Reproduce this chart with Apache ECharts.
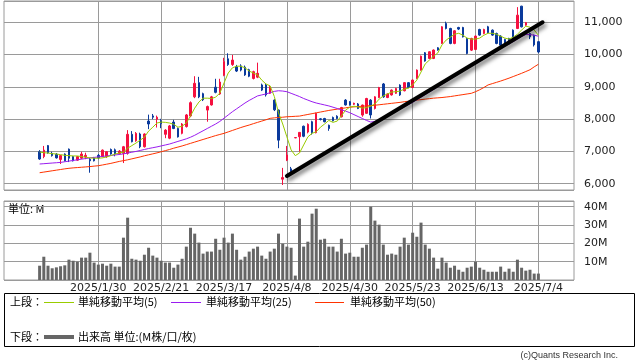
<!DOCTYPE html>
<html><head><meta charset="utf-8">
<script src="https://cdn.jsdelivr.net/npm/echarts@6/dist/echarts.min.js"></script>
<style>html,body{margin:0;padding:0;background:#fff;}#c{width:638px;height:362px;}</style>
</head><body><div id="c"></div>
<script>
const padBefore = ['2024/12/24','2024/12/25','2024/12/26','2024/12/27','2024/12/30','2025/1/6','2025/1/7','2025/1/8'];
const dates = [
'2025/1/9','2025/1/10','2025/1/14','2025/1/15','2025/1/16','2025/1/17','2025/1/20','2025/1/21','2025/1/22','2025/1/23','2025/1/24','2025/1/27','2025/1/28','2025/1/29','2025/1/30','2025/1/31',
'2025/2/3','2025/2/4','2025/2/5','2025/2/6','2025/2/7','2025/2/10','2025/2/12','2025/2/13','2025/2/14','2025/2/17','2025/2/18','2025/2/19','2025/2/20','2025/2/21','2025/2/25','2025/2/26','2025/2/27','2025/2/28',
'2025/3/3','2025/3/4','2025/3/5','2025/3/6','2025/3/7','2025/3/10','2025/3/11','2025/3/12','2025/3/13','2025/3/14','2025/3/17','2025/3/18','2025/3/19','2025/3/21','2025/3/24','2025/3/25','2025/3/26','2025/3/27','2025/3/28','2025/3/31',
'2025/4/1','2025/4/2','2025/4/3','2025/4/4','2025/4/7','2025/4/8','2025/4/9','2025/4/10','2025/4/11','2025/4/14','2025/4/15','2025/4/16','2025/4/17','2025/4/18','2025/4/21','2025/4/22','2025/4/23','2025/4/24','2025/4/25','2025/4/28','2025/4/30',
'2025/5/1','2025/5/2','2025/5/7','2025/5/8','2025/5/9','2025/5/12','2025/5/13','2025/5/14','2025/5/15','2025/5/16','2025/5/19','2025/5/20','2025/5/21','2025/5/22','2025/5/23','2025/5/26','2025/5/27','2025/5/28','2025/5/29','2025/5/30',
'2025/6/2','2025/6/3','2025/6/4','2025/6/5','2025/6/6','2025/6/9','2025/6/10','2025/6/11','2025/6/12','2025/6/13','2025/6/16','2025/6/17','2025/6/18','2025/6/19','2025/6/20','2025/6/23','2025/6/24','2025/6/25','2025/6/26','2025/6/27','2025/6/30',
'2025/7/1','2025/7/2','2025/7/3','2025/7/4'];
const padAfter = ['2025/7/7','2025/7/8','2025/7/9','2025/7/10','2025/7/11','2025/7/14','2025/7/15','2025/7/16'];
const labelDates = ['2025/1/30','2025/2/21','2025/3/17','2025/4/8','2025/4/30','2025/5/23','2025/6/13','2025/7/4'];

const opens = [6990,6840,7180,6940,6910,6750,6920,7070,6840,6730,6790,6830,6760,6800,6880,6840,6840,7060,7050,6930,
6940,6940,7530,7330,7540,7145,7940,8100,8000,7950,7530,7410,7910,7710,7560,7770,8100,8690,9130,8790,
8280,8440,8990,8780,9360,9870,9690,9620,9650,9610,9530,9260,9300,9060,9060,8800,8590,8280,6140,6730,
6460,7420,7455,7780,7600,7920,7580,8010,8020,7810,8050,8090,8075,8590,8540,8460,8470,8126,8180,8590,
8330,8670,9090,8670,8750,8800,9055,8880,9130,8980,9260,9520,10056,9880,9880,10210,10345,10964,10809,10345,
10840,10840,10500,10138,10159,10778,10654,10861,10757,10654,10572,10469,10500,10757,10809,11500,10912,10654,10600,10400];
const closes = [6765,7040,6960,6870,6800,6870,6710,6790,6710,6840,6920,6880,6710,6710,6800,7040,6990,6920,6920,7010,
7145,7530,7300,7560,7145,7540,7850,8060,8060,7860,7660,7790,7710,7450,7850,8130,8510,9110,8690,8600,
8390,8690,8830,9150,9780,9690,9830,9490,9520,9370,9330,9470,9420,8900,8750,9000,8290,7350,6190,6890,
6370,7430,7590,7470,7840,7580,8180,7990,7920,7710,7950,8020,8360,8440,8440,8490,8330,8436,8640,8130,
8690,8980,8690,8780,8900,8950,8750,9130,8980,9210,9520,9950,9800,10087,10140,10140,10860,10809,10345,10737,
10790,10550,10035,10500,10572,10603,10778,10675,10603,10345,10293,10314,10330,10469,11222,10860,10990,10550,10300,10080];
const lows = [6740,6790,6930,6840,6780,6610,6690,6670,6690,6710,6760,6760,6340,6690,6760,6820,6800,6900,6850,6900,
6640,6900,7280,7300,7100,7120,7690,8000,7740,7720,7410,7380,7690,7430,7530,7740,8060,8650,8650,8560,
7920,8420,8800,8750,9330,9650,9650,9460,9480,9340,9300,9230,9270,8870,8700,8780,8250,7100,5960,6700,
6240,7410,6990,7440,7560,7520,7560,7960,7900,7640,7930,8000,8050,8420,8420,8440,8310,8074,8160,8020,
8300,8650,8660,8650,8730,8780,8720,8860,8960,8960,9240,9500,9780,9860,9860,10120,10330,10780,10320,10320,
10760,10530,10010,10110,10140,10580,10630,10650,10580,10320,10270,10290,10300,10440,10790,10840,10890,10480,10250,10040];
const highs = [7040,7170,7200,6990,6950,6890,6940,7090,6860,6860,6990,6960,6800,6830,6920,7060,7010,7090,7090,7040,
7170,7660,7630,7600,7580,7560,8140,8160,8110,8010,7690,7820,7980,7740,7880,8160,8550,9330,9310,8820,
8420,8720,9250,9250,9900,10040,9990,9680,9700,9660,9560,9500,9750,9100,9100,9050,8620,8300,6490,7170,
6520,7440,7600,7800,7870,7950,8200,8030,8040,7830,8080,8120,8380,8620,8560,8510,8500,8450,8660,8620,
8710,9000,9120,8800,8920,8970,9080,9150,9150,9230,9540,9970,10080,10100,10160,10230,10880,11020,10830,10760,
10860,10860,10520,10520,10590,10800,10800,10890,10780,10680,10600,10490,10520,10780,11470,11510,11010,10680,10620,10420];
const volumes = [7.8,12.7,7.8,6.4,6.9,7.5,8.0,11.1,10.5,10.0,12.2,12.2,14.9,9.5,8.4,8.9,7.8,8.9,7.3,7.3,
23.1,34.0,11.6,11.1,10.5,13.8,17.6,13.3,12.2,10.5,9.5,9.5,6.7,8.4,11.6,18.2,28.5,25.3,20.4,14.4,
15.5,15.5,22.5,16.5,23.1,20.4,25.3,16.5,11.1,12.7,15.5,17.1,18.2,13.3,11.6,15.5,17.1,25.3,19.8,18.2,
17.6,2.4,33.5,18.2,20.9,36.2,38.9,22.0,22.5,18.2,18.2,15.5,22.5,14.4,14.9,12.7,12.7,17.6,19.3,40.0,
32.4,30.2,19.3,13.8,14.4,13.8,18.2,23.1,19.3,25.8,23.6,31.3,19.3,17.1,12.2,6.2,12.2,9.5,6.7,7.8,
5.6,4.5,6.7,7.3,10.0,6.7,5.6,4.5,4.5,4.5,7.3,4.5,6.2,4.5,11.1,6.7,5.1,5.6,3.5,3.5];
const ma5 = [6980,6960,6950,6930,6920,6900,6880,6870,6860,6860,6840,6820,6800,6790,6790,6800,6830,6870,6920,6950,
6980,7100,7180,7260,7350,7440,7630,7750,7880,7910,7900,7880,7840,7750,7780,7880,8100,8340,8530,8650,
8650,8640,8680,8810,9120,9430,9590,9640,9640,9590,9490,9430,9370,9210,9090,9030,8700,8200,7850,7450,
7050,6870,6950,7200,7450,7560,7610,7750,7850,7960,7900,7940,8100,8280,8370,8400,8380,8340,8360,8400,
8470,8620,8720,8780,8840,8850,8870,8930,8960,9060,9210,9460,9710,9830,9950,10050,10300,10450,10540,10630,
10660,10600,10510,10480,10480,10510,10600,10660,10660,10630,10570,10510,10480,10540,10630,10760,10880,10850,10760,10600];
const ma25 = [6610,6620,6630,6640,6650,6660,6680,6700,6720,6740,6760,6780,6800,6815,6830,6845,6860,6875,6890,6905,
6925,6950,6975,7000,7030,7060,7090,7115,7140,7170,7200,7230,7270,7310,7350,7390,7440,7500,7570,7640,
7710,7780,7850,7930,8030,8130,8230,8320,8410,8500,8580,8650,8720,8750,8780,8820,8860,8880,8870,8850,
8800,8750,8700,8640,8590,8540,8500,8470,8440,8410,8370,8330,8290,8250,8200,8140,8080,8020,7960,7910,
7930,7980,8040,8100,8160,8230,8310,8380,8450,8520,8600,8680,8760,8840,8920,9000,9080,9160,9240,9320,
9400,9480,9560,9640,9710,9790,9870,9950,10030,10100,10180,10260,10330,10400,10480,10560,10620,10620,10600,10570];
const ma50 = [6340,6360,6380,6400,6420,6440,6460,6477,6490,6500,6510,6520,6530,6545,6557,6580,6605,6630,6660,6690,
6715,6740,6770,6800,6830,6865,6895,6925,6955,6990,7025,7060,7100,7135,7170,7210,7250,7290,7330,7370,
7410,7450,7490,7525,7560,7605,7650,7695,7740,7780,7817,7860,7900,7940,7980,8025,8040,8050,8060,8074,
8080,8088,8095,8120,8145,8170,8195,8220,8245,8270,8290,8310,8330,8350,8370,8380,8390,8400,8410,8420,
8430,8445,8460,8475,8490,8505,8520,8540,8555,8570,8590,8605,8620,8635,8650,8660,8670,8685,8700,8720,
8740,8760,8780,8800,8850,8910,8980,9060,9100,9140,9180,9225,9270,9320,9370,9420,9475,9530,9620,9700];
const trendline = [['2025/4/8', 6240], ['2025/7/7', 11000]];

const UP = '#f5103f', DOWN = '#0a3a9c', GRID = '#9a9a9a';
const cats = padBefore.concat(dates, padAfter);
const bBlank = padBefore.map(() => '-');
const aBlank = padAfter.map(() => '-');
const pad = arr => bBlank.concat(arr, aBlank);
const candleData = pad(dates.map((d, i) => [opens[i], closes[i], lows[i], highs[i]]));
const showDate = (idx, val) => labelDates.indexOf(val) >= 0;
const fmtNum = v => String(v).replace(/\B(?=(\d{3})+(?!\d))/g, ',');
const JP = '"Noto Sans CJK JP"';

const chart = echarts.init(document.getElementById('c'));
const xBase = {
  type: 'category', data: cats, boundaryGap: true,
  axisLine: {show: false}, axisTick: {show: false},
  splitLine: {show: true, alignWithLabel: true, interval: showDate, lineStyle: {color: GRID, width: 1}}
};
chart.setOption({
  animation: false,
  backgroundColor: '#fff',
  grid: [
    {left: 4, right: 64, top: 1, height: 189, show: true, borderColor: GRID, borderWidth: 1, backgroundColor: 'transparent'},
    {left: 4, right: 64, top: 201, height: 79, show: true, borderColor: GRID, borderWidth: 1, backgroundColor: 'transparent'}
  ],
  xAxis: [
    Object.assign({}, xBase, {gridIndex: 0, axisLabel: {show: false}}),
    Object.assign({}, xBase, {gridIndex: 1, axisLabel: {show: true, interval: showDate, margin: 3,
      fontSize: 11, fontFamily: 'DejaVu Sans', color: '#222'}})
  ],
  yAxis: [
    {type: 'value', gridIndex: 0, position: 'right', min: 5805, max: 11660, scale: true,
     axisLine: {show: false}, axisTick: {show: false},
     splitLine: {show: true, lineStyle: {color: GRID, width: 1}},
     axisLabel: {showMinLabel: false, showMaxLabel: false, margin: 10, fontSize: 11, fontFamily: 'DejaVu Sans', color: '#222',
       formatter: v => (v % 1000 === 0 ? fmtNum(v) : '')}},
    {type: 'value', gridIndex: 1, position: 'right', min: 0, max: 43.1,
     axisLine: {show: false}, axisTick: {show: false},
     splitLine: {show: true, lineStyle: {color: GRID, width: 1}},
     axisLabel: {showMinLabel: false, showMaxLabel: false, margin: 10, fontSize: 11, fontFamily: 'DejaVu Sans', color: '#222',
       formatter: v => (v > 0 && v % 10 === 0 ? v + 'M' : '')}}
  ],
  series: [
    {type: 'candlestick', xAxisIndex: 0, yAxisIndex: 0, data: candleData, barWidth: 2, clip: false,
     itemStyle: {color: UP, color0: DOWN, borderColor: UP, borderColor0: DOWN, borderWidth: 1}},
    {type: 'line', name: 'ma50', xAxisIndex: 0, yAxisIndex: 0, data: pad(ma50), showSymbol: false, symbol: 'none',
     lineStyle: {color: '#ff3300', width: 1}, z: 3},
    {type: 'line', name: 'ma25', xAxisIndex: 0, yAxisIndex: 0, data: pad(ma25), showSymbol: false, symbol: 'none',
     lineStyle: {color: '#9a1cf0', width: 1}, z: 3},
    {type: 'line', name: 'ma5', xAxisIndex: 0, yAxisIndex: 0, data: pad(ma5), showSymbol: false, symbol: 'none',
     lineStyle: {color: '#99cc00', width: 1}, z: 3},
    {type: 'line', name: 'trend', xAxisIndex: 0, yAxisIndex: 0, data: trendline, showSymbol: false, symbol: 'none',
     lineStyle: {color: '#000', width: 4, cap: 'round', shadowColor: 'rgba(0,0,0,0.55)', shadowBlur: 4, shadowOffsetX: 2, shadowOffsetY: 3}, z: 5},
    {type: 'bar', xAxisIndex: 1, yAxisIndex: 1, data: pad(volumes), barWidth: 3, itemStyle: {color: '#666'}}
  ],
  graphic: [
    {type: 'text', left: 8, top: 203, style: {text: '単位: M', font: '11px ' + JP, fill: '#000'}},
    {type: 'rect', shape: {x: 4.5, y: 293.5, width: 630, height: 53}, style: {fill: 'none', stroke: '#000', lineWidth: 1}},
    {type: 'text', x: 10, y: 302, style: {text: '上段：', font: '11px ' + JP, fill: '#000', verticalAlign: 'middle'}},
    {type: 'line', shape: {x1: 44, y1: 302.5, x2: 74, y2: 302.5}, style: {stroke: '#99cc00', lineWidth: 1}},
    {type: 'text', x: 78, y: 302, style: {text: '単純移動平均(5)', font: '11px ' + JP, fill: '#000', verticalAlign: 'middle'}},
    {type: 'line', shape: {x1: 171, y1: 302.5, x2: 201, y2: 302.5}, style: {stroke: '#9a1cf0', lineWidth: 1}},
    {type: 'text', x: 206, y: 302, style: {text: '単純移動平均(25)', font: '11px ' + JP, fill: '#000', verticalAlign: 'middle'}},
    {type: 'line', shape: {x1: 315, y1: 302.5, x2: 344, y2: 302.5}, style: {stroke: '#ff3300', lineWidth: 1}},
    {type: 'text', x: 350, y: 302, style: {text: '単純移動平均(50)', font: '11px ' + JP, fill: '#000', verticalAlign: 'middle'}},
    {type: 'text', x: 10, y: 337, style: {text: '下段：', font: '11px ' + JP, fill: '#000', verticalAlign: 'middle'}},
    {type: 'line', shape: {x1: 44, y1: 337, x2: 74, y2: 337}, style: {stroke: '#666', lineWidth: 4}},
    {type: 'text', x: 78, y: 337, style: {text: '出来高 単位:(M株/口/枚)', font: '11px ' + JP, fill: '#000', verticalAlign: 'middle'}},
    {type: 'text', x: 618, y: 356, style: {text: '(c)Quants Research Inc.', font: '9px "Liberation Sans"', fill: '#333', align: 'right', verticalAlign: 'middle'}}
  ]
});
</script></body></html>
